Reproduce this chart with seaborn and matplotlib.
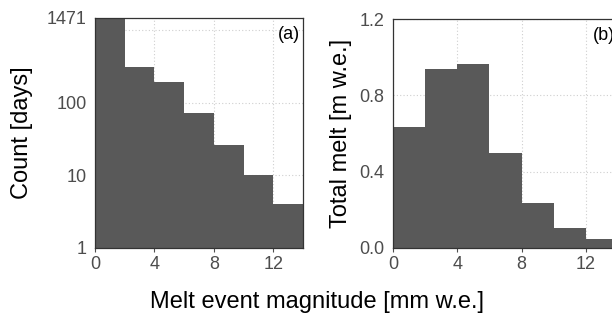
import numpy as np
import pandas as pd
import matplotlib
matplotlib.use("Agg")
import matplotlib.pyplot as plt
import seaborn as sns

# Data
bin_edges = [0, 2, 4, 6, 8, 10, 12, 14]
bin_centers = [1, 3, 5, 7, 9, 11, 13]
count_days = [1471, 314, 192, 72, 26, 10, 4]
total_melt = [0.636, 0.938, 0.962, 0.50, 0.237, 0.105, 0.049]
x_ticks = [0, 4, 8, 12]
a_yticks = [1, 10, 100, 1000, 1471]
a_yticklabels = ["1", "10", "100", "", "1471"]
b_yticks = [0.0, 0.4, 0.8, 1.2]
b_yticklabels = ["0.0", "0.4", "0.8", "1.2"]

sns.set_theme(style="white")
plt.rcParams["font.family"] = ["Liberation Sans", "DejaVu Sans"]

W, H = 612, 321
fig = plt.figure(figsize=(W / 100, H / 100), dpi=100)

def box(l, t, r, b):
    return [l / W, 1 - b / H, (r - l) / W, (b - t) / H]

ax_a = fig.add_axes(box(95, 18, 303, 248))
ax_b = fig.add_axes(box(393, 19, 618, 248))

df_a = pd.DataFrame({"x": bin_centers, "w": count_days})
df_b = pd.DataFrame({"x": bin_centers, "w": total_melt})

bar_color = "#595959"
ax_a.set_yscale("log")
sns.histplot(data=df_a, x="x", weights="w", bins=bin_edges, ax=ax_a,
             color=bar_color, alpha=1, linewidth=0)
sns.histplot(data=df_b, x="x", weights="w", bins=bin_edges, ax=ax_b,
             color=bar_color, alpha=1, linewidth=0)

tick_col = "#4d4d4d"
grid_kw = dict(color="#cfcfcf", linestyle=(0, (1, 2)), linewidth=0.8)

for ax in (ax_a, ax_b):
    ax.set_xlim(0, 14)
    ax.set_xticks(x_ticks)
    ax.set_xlabel("")
    ax.set_ylabel("")
    ax.set_axisbelow(True)
    ax.grid(True, which="major", **grid_kw)
    ax.tick_params(axis="x", length=3, width=0.8, color=tick_col, labelcolor=tick_col,
                   labelsize=13, pad=3, bottom=True)
    ax.tick_params(axis="y", length=0, labelcolor=tick_col, labelsize=13, pad=6, left=True)
    for s in ax.spines.values():
        s.set_color("#333333")
        s.set_linewidth(0.9)

ax_a.set_ylim(1, 1471)
ax_a.set_yticks(a_yticks)
ax_a.set_yticklabels(a_yticklabels)
ax_a.minorticks_off()

ax_b.set_ylim(0, 1.2)
ax_b.set_yticks(b_yticks)
ax_b.set_yticklabels(b_yticklabels)
ax_b.minorticks_off()

ax_a.text(0.985, 0.965, "(a)", transform=ax_a.transAxes, ha="right", va="top",
          fontsize=13, color="black")
ax_b.text(0.888, 0.965, "(b)", transform=ax_b.transAxes, ha="left", va="top",
          fontsize=13, color="black")

fig.text(22 / W, 1 - 133 / H, "Count [days]", rotation=90, ha="center", va="center",
         fontsize=17, color="black")
fig.text(341 / W, 1 - 133 / H, "Total melt [m w.e.]", rotation=90, ha="center",
         va="center", fontsize=17, color="black")
fig.text(317 / W, 1 - 302 / H, "Melt event magnitude [mm w.e.]", ha="center",
         va="center", fontsize=17, color="black")

fig.savefig("out.png", dpi=100)
